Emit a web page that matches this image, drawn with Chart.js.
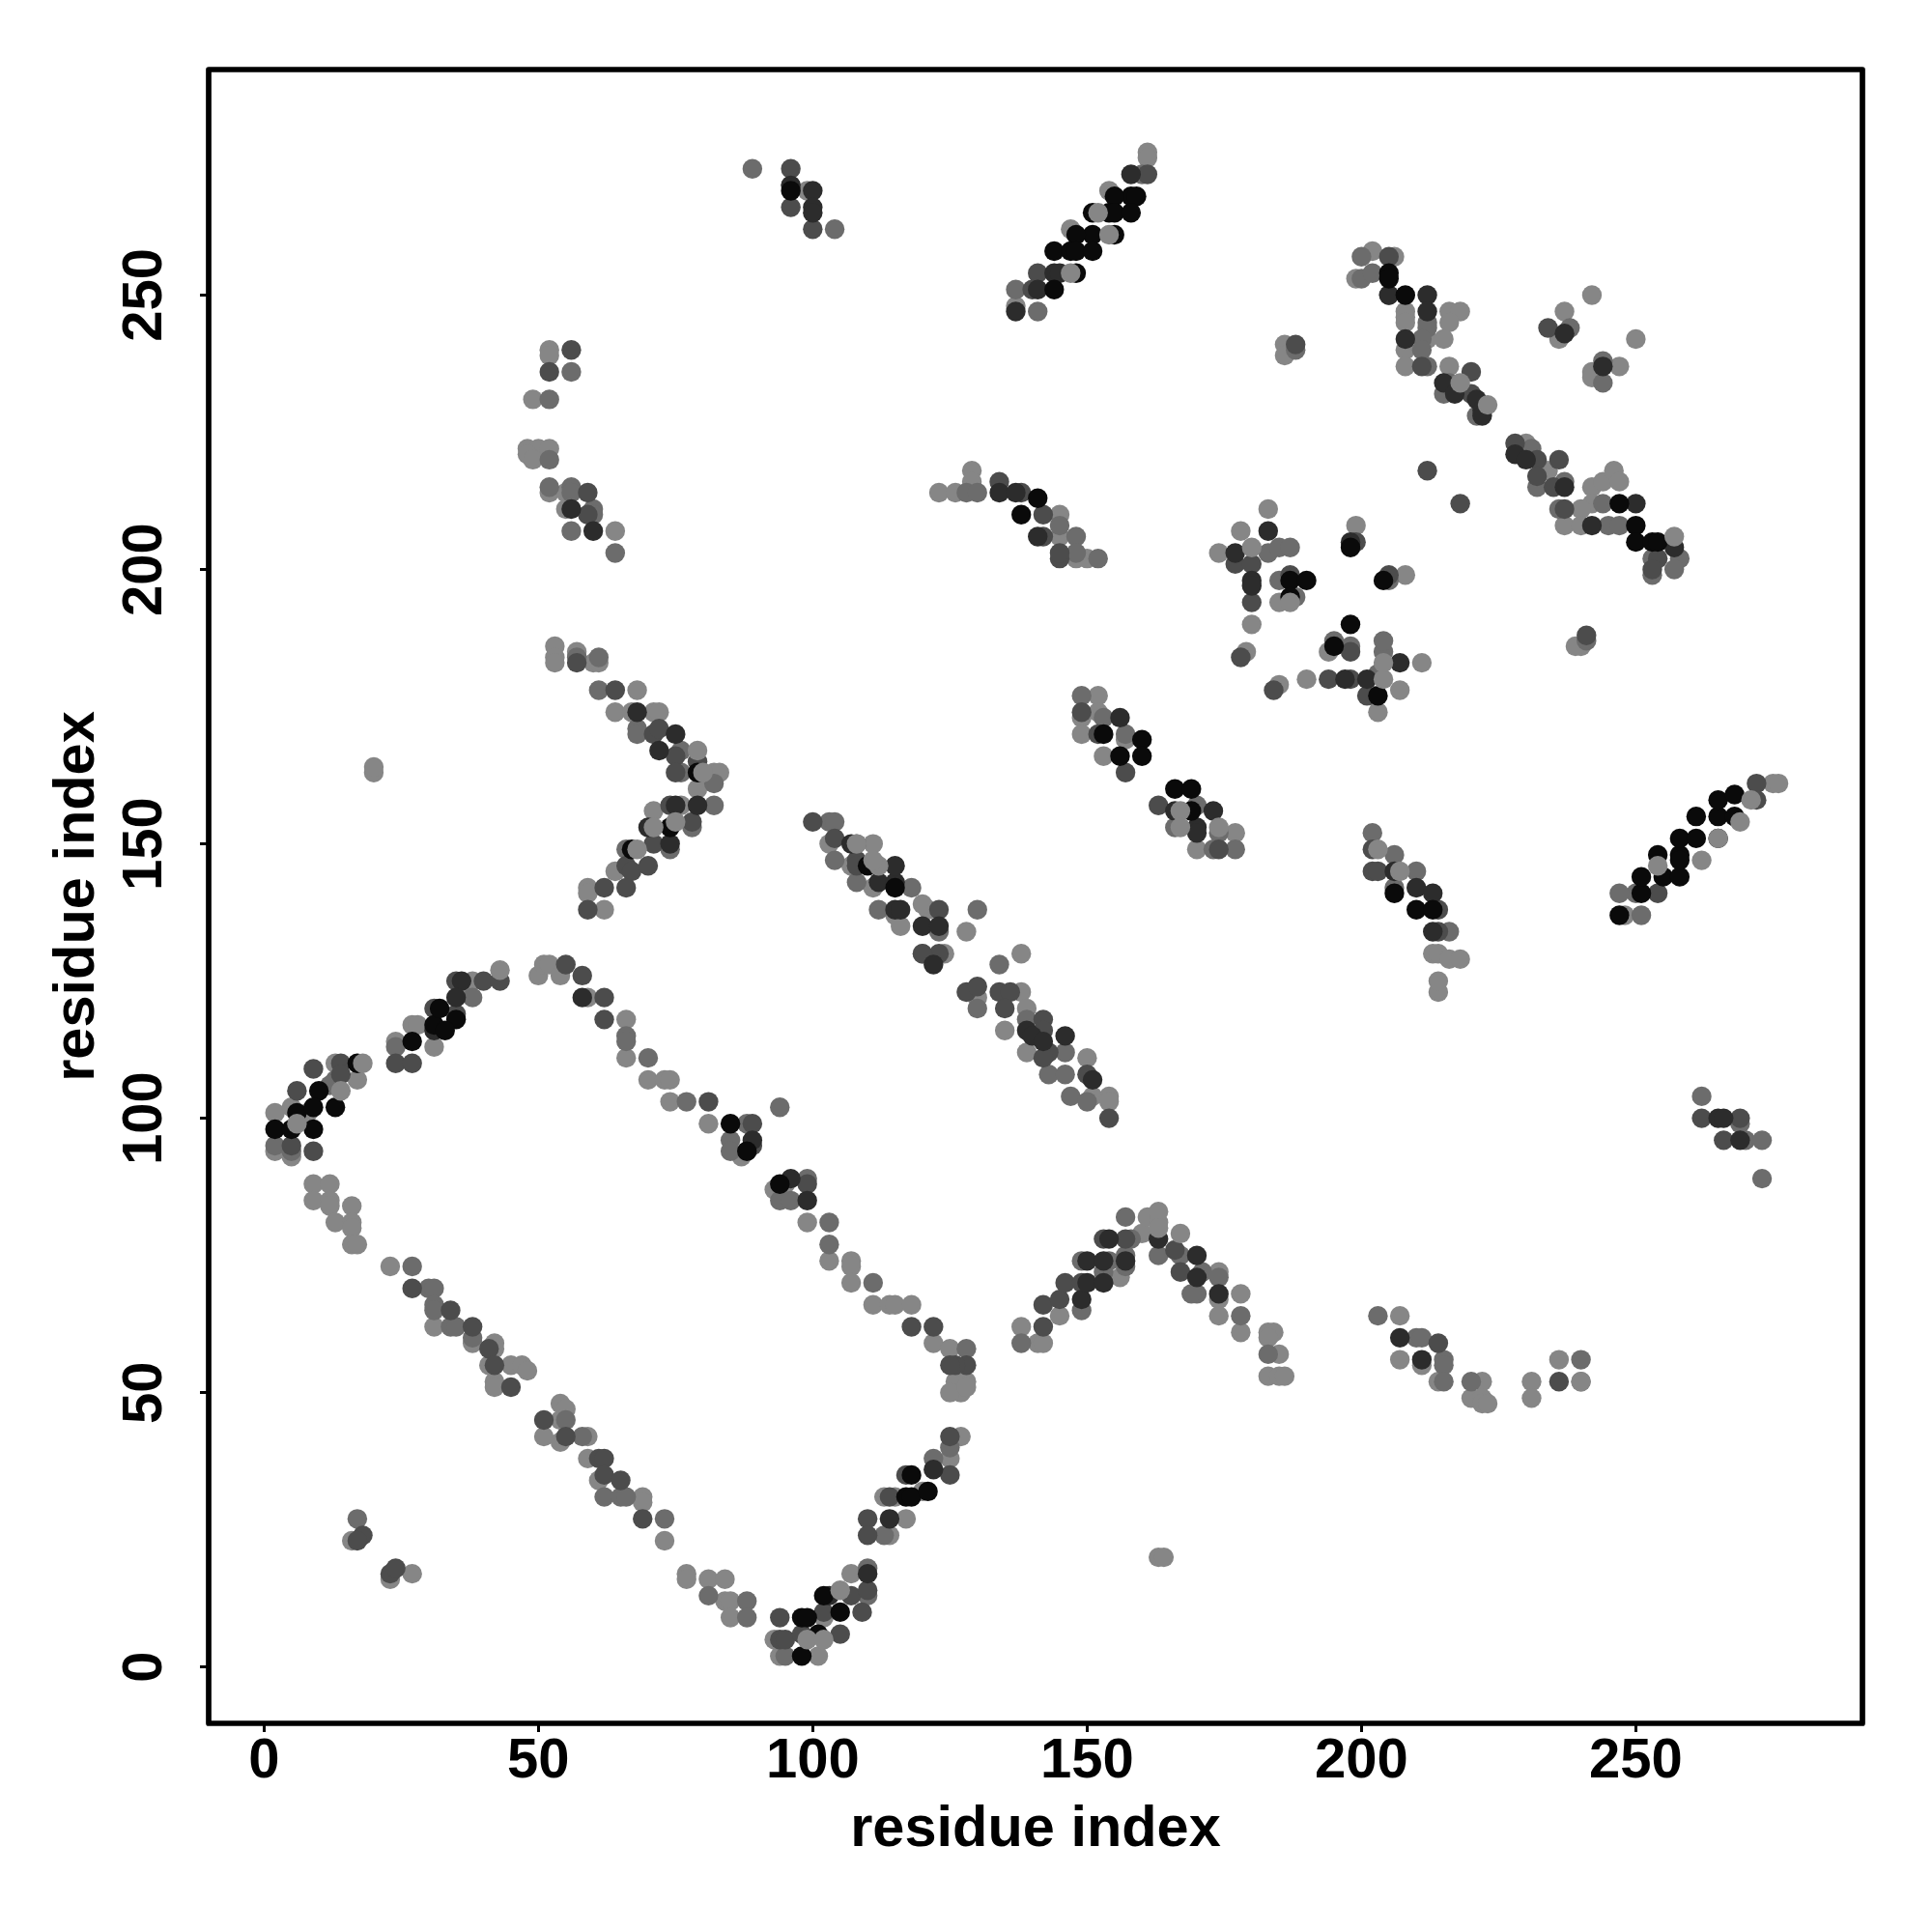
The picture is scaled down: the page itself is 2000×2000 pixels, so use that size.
<!DOCTYPE html>
<html>
<head>
<meta charset="utf-8">
<style>html,body{margin:0;padding:0;background:#fff}canvas{display:block}</style>
<script src="https://cdn.jsdelivr.net/npm/chart.js@4/dist/chart.umd.min.js"></script>
</head>
<body>
<canvas id="c" width="2000" height="2000"></canvas>
<script>
const xTicks=[0,50,100,150,200,250];
const yTicks=[0,50,100,150,200,250];
const axisTitle="residue index";

const blackPoints=[[2,98],[5,98],[6,101],[10,105],[9,102],[9,98],[13,102],[17,110],[27,114],[31,117],[32,120],[35,118],[33,116],[85,99],[88,94],[94,88],[98,2],[98,9],[99,9],[101,6],[102,13],[105,10],[117,31],[118,31],[118,35],[121,32],
[96,269],[79,163],[74,153],[67,149],[110,146],[115,142],
[158,268],[155,268],[159,268],[151,265],[154,265],[155,265],[158,265],[151,261],[155,261],[148,261],[144,258],[147,258],[148,258],[151,258],[148,254],[144,251],
[205,254],[205,253],[208,250],[250,208],[250,205],[253,205],[254,205],[247,212],
[141,213],[138,210],[187,198],[190,198],[187,195],[203,177],[195,186],[198,190],[198,204],[204,198],
[153,170],[160,169],[156,166],[160,166],[166,160],[169,160],[169,156],
[206,141],[210,138],[213,138],
[247,137],[251,141],[251,144],[255,144],[258,144],[254,148],[258,148],[258,147],[258,151],[261,151],[261,155],[265,155],[265,151],[265,158],[268,159],[268,155]];

const darkPoints=[[31,116],[36,125],[35,122],[58,122],[89,96],[96,89],[99,85],[110,17],[114,27],[122,36],[103,13],
[96,270],[100,269],[100,266],[100,265],[56,211],[60,207],[68,174],[75,170],[72,167],[79,157],[75,157],[70,153],[74,150],[112,143],[115,143],[115,146],[115,138],[116,138],[120,135],[123,135],[107,150],
[122,128],[139,116],[140,115],[142,114],[146,115],[151,107],
[149,67],[150,74],[150,70],[154,78],[153,74],[153,70],[157,74],[163,78],[170,75],[170,71],[174,68],[207,60],[211,56],[265,100],[266,100],[269,96],
[158,272],[144,254],[141,251],[145,254],[137,247],
[205,250],[212,250],[212,247],[208,242],[215,234],[217,232],[221,231],[222,229],[222,228],
[228,221],[230,220],[237,215],[250,212],[242,208],[257,204],[237,243],[244,237],[134,214],[137,214],[141,206],
[177,203],[183,207],[180,198],[180,197],[197,180],[201,180],[207,183],[198,205],
[156,173],[166,156],[173,156],[170,153],[170,152],[206,145],[210,142],[213,141],[213,134]];

const darkMidPoints=[[6,105],[9,109],[9,94],[14,110],[14,108],[24,110],[27,110],[5,95],[31,120],[35,125],[40,125],[43,125],[35,119],
[55,128],[58,126],[62,122],[62,118],[81,103],[89,99],[89,95],[99,88],[118,62],[122,62],[128,55],[126,55],[125,55],
[27,69],[34,65],[38,62],[41,58],[42,55],[45,51],[51,45],[55,42],[61,38],[62,38],[62,35],[65,34],[69,27],
[94,9],[94,5],[95,5],[98,6],[102,10],[105,6],[107,13],[109,10],[110,14],
[110,27],[110,24],[114,31],[117,35],[125,35],[125,42],[18,24],[23,17],[24,18],[17,23],
[96,273],[96,266],[100,262],[52,236],[59,214],[59,210],[56,240],[57,183],
[64,178],[71,170],[72,171],[75,166],[79,165],[75,163],[74,157],[78,154],[71,150],[66,146],[67,145],[70,146],[62,142],[66,142],[59,138],
[100,154],[104,151],[108,147],[108,146],[123,138],[123,130],[120,130],
[128,123],[130,124],[134,123],[136,123],[135,120],[142,118],[142,116],[143,112],[142,111],[150,108],[154,100],
[142,62],[142,66],[145,67],[146,70],[149,70],[153,78],[157,78],[166,76],[167,72],[214,59],[236,52],[262,100],[269,100],[266,96],
[161,272],[141,254],[140,251],[205,257],[211,237],[220,236],[220,232],
[228,223],[232,220],[236,220],[232,217],[235,215],[237,211],[254,202],[253,200],[234,244],
[218,212],[212,218],[134,216],[138,214],[142,210],[145,202],[145,203],[142,206],
[177,201],[180,201],[180,194],[187,199],[178,184],[184,178],[194,180],[198,180],[201,177],[198,185],[199,205],[205,199],[188,241],[241,188],
[149,174],[152,170],[157,163],[163,157],[174,149],[202,145],[203,145],[202,149],[214,138],[214,134],[254,141],[272,161],[272,158]];

const midPoints=[[2,95],[5,94],[13,107],[12,106],[38,122],[24,113],[94,102],[85,96],[85,94],[88,99],[94,85],[96,85],[99,89],[66,115],[66,114],[70,111],[77,103],[103,81],[103,77],[111,70],
[27,73],[30,69],[31,69],[31,66],[31,65],[34,62],[35,62],[38,60],[55,45],[58,42],[62,31],[65,31],[66,31],[73,27],[81,13],[88,12],[88,9],[95,2],[110,13],[110,18],[125,40],[122,38],[113,24],[17,27],[128,58],
[89,273],[96,270],[104,262],[52,231],[52,220],[52,215],[56,236],[56,215],[56,214],[60,211],[60,210],[56,207],[64,203],[57,184],[61,184],
[61,178],[68,171],[68,170],[76,167],[76,163],[82,161],[82,157],[78,153],[74,149],[66,149],
[103,154],[104,154],[104,147],[108,150],[108,143],[112,138],[123,134],[118,142],
[130,138],[134,128],[130,120],[139,118],[146,112],[143,108],[146,108],[147,104],[150,103],
[138,59],[149,65],[149,74],[154,74],[153,72],[157,82],[158,78],[157,75],[157,73],[163,75],[167,75],[171,72],[170,68],[169,68],[174,71],[178,64],[183,57],[203,64],[210,60],[211,60],[215,56],[215,55],[215,52],[220,52],[240,56],[262,104],[269,99],[270,96],[273,96],[273,89],
[160,272],[137,251],[141,247],[200,257],[200,253],[202,254],[205,250],[212,245],[212,244],[211,242],[211,240],[212,237],[216,234],[215,232],[221,228],
[231,222],[232,215],[237,216],[244,212],[236,211],[245,208],[247,208],[253,202],[258,202],[257,200],[253,199],[238,244],[244,238],[244,234],
[128,214],[130,214],[145,208],[148,206],[148,203],[152,202],
[183,203],[185,204],[187,204],[185,198],[188,195],[204,185],[204,187],[203,181],[195,187],[198,186],[205,198],[188,240],[241,187],
[149,177],[153,173],[157,170],[170,157],[166,153],[174,152],[173,149],[177,149],[202,152],[206,148],[210,145],[206,142],[216,134],[250,141],[247,141],[251,137]];

const lightPoints=[[2,101],[2,94],[5,102],[5,93],[8,101],[13,110],[17,107],[24,114],[27,117],[28,117],[31,113],[38,125],[37,124],
[50,126],[51,128],[52,128],[54,126],[59,122],[66,118],[66,111],[70,107],[73,107],[74,107],[74,103],[81,99],[87,93],[88,94],[93,87],[95,88],[99,81],[103,74],[107,74],[107,73],[107,70],[111,66],[114,66],[115,66],[118,66],[122,59],
[125,58],[128,52],[126,52],[127,50],[125,50],[128,51],
[9,88],[12,88],[9,85],[12,85],[12,84],[13,81],[16,84],[16,81],[16,80],[16,77],[17,77],[23,73],[31,62],[38,59],[42,59],[42,58],[41,55],[42,52],[42,51],[45,55],[47,55],[48,54],[51,42],[54,48],[55,47],[54,45],[54,41],[59,42],[59,38],[61,34],[69,31],[69,30],[73,23],[77,17],[77,16],[81,16],[84,16],[84,12],[85,12],[85,9],[93,5],[94,2],[101,2],[102,9],[107,17],
[114,24],[117,27],[113,31],[115,31],[120,32],[125,38],[127,42],[16,23],[23,16],[27,17],[20,163],[20,164],[163,20],[164,20],
[99,269],[52,240],[52,239],[49,231],[48,222],[50,222],[48,221],[49,220],[52,222],[52,214],[55,214],[55,211],[64,207],
[53,186],[53,184],[53,183],[57,185],[60,183],[61,183],[68,178],[64,174],[67,174],[71,174],[72,174],[79,160],[82,163],[83,163],[71,156],[76,157],[59,142],[59,141],[62,138],[64,145],
[103,150],[111,150],[107,146],[111,142],[115,137],[121,138],[116,135],[120,139],[120,130],[124,130],[128,134],[138,130],[130,122],[138,123],[135,116],[139,120],[139,112],[150,111],[151,104],[154,104],[154,103],
[138,62],[141,59],[142,59],[145,64],[156,71],[160,79],[161,82],[174,72],[174,67],[174,64],[178,68],[178,61],[183,61],[184,61],[183,60],[185,57],[183,53],[185,53],[186,53],[207,64],[207,56],[211,55],[214,52],[222,52],[220,49],[222,49],[222,48],[223,48],[231,52],[231,49],[236,56],[240,52],[214,123],[214,125],
[161,276],[161,275],[154,269],[147,262],[137,248],[199,253],[202,258],[206,257],[208,247],[208,246],[208,245],[216,247],[218,247],[216,245],[215,242],[212,242],[208,240],[208,237],[216,237],
[230,223],[234,218],[242,215],[244,216],[246,218],[247,216],[242,212],[240,211],[237,208],[240,208],[242,250],[237,247],[236,242],[250,242],[242,236],[247,237],[242,235],[186,241],[186,239],[240,186],[239,186],
[123,214],[126,214],[129,218],[129,216],[145,210],[145,206],[148,202],[150,202],
[174,203],[178,207],[183,211],[180,190],[185,194],[179,185],[185,179],[190,180],[202,177],[203,174],[207,178],[211,183],[194,185],[199,208],[208,199],
[152,177],[149,173],[152,174],[149,170],[153,166],[157,169],[177,152],[170,149],[213,130],[214,130],[216,129],[218,129],[248,137],[262,147],[275,161],[276,161]];

const lightTopPoints=[[6,99],[14,105],[18,110],[43,127],[99,5],[102,5],[105,14],[80,163],[79,167],[71,153],[68,149],[75,154],[112,146],[111,147],[108,150],[152,265],[147,254],[154,261],[254,146],[265,151],[269,154],[167,156],[174,153],[203,149],[207,145],[180,204],[187,194],[257,206],[223,230],[218,234],[204,180],[204,183],[163,81],[163,83],[167,79],[163,80],[271,158],[167,153],[240,52]];

const asXY=list=>list.map(p=>({x:p[0],y:p[1]}));
const layer=(list,color)=>({data:asXY(list),backgroundColor:color,borderWidth:0,pointRadius:10.2,pointHoverRadius:10.2});

const boxPlugin={id:'box',afterDraw(chart){
  const a=chart.chartArea,g=chart.ctx;
  g.save();g.strokeStyle='#000';g.lineWidth=5.7;g.lineJoin='round';
  g.strokeRect(a.left,a.top,a.right-a.left,a.bottom-a.top);g.restore();
}};
const font={family:'"Liberation Sans"',weight:'bold',size:58};
const titleFont={family:'"Liberation Sans"',weight:'bold',size:59.5};
const baseAxis=(ticks,titlePadding)=>({
  type:'linear',
  afterBuildTicks(s){s.ticks=ticks.map(v=>({value:v}));},
  grid:{display:true,drawOnChartArea:false,drawTicks:true,tickLength:9,tickWidth:3,tickColor:'#000',color:'#000'},
  border:{display:false},
  title:{display:true,text:axisTitle,color:'#000',font:titleFont,padding:titlePadding}
});
new Chart(document.getElementById('c'),{
  type:'scatter',
  // dataset 0 is painted last, so the list runs from the top layer down
  data:{datasets:[
    layer(lightTopPoints,'#868686'),
    layer(blackPoints,'#0a0a0a'),
    layer(darkPoints,'#2c2c2c'),
    layer(darkMidPoints,'#4c4c4c'),
    layer(midPoints,'#6c6c6c'),
    layer(lightPoints,'#868686')
  ]},
  options:{
    responsive:false,animation:false,devicePixelRatio:1,
    layout:{padding:{left:0,bottom:0,top:72,right:72}},
    plugins:{legend:{display:false},tooltip:{enabled:false}},
    scales:{
      x:Object.assign(baseAxis(xTicks,{top:0,bottom:70}),{
        min:-10.09,max:291.3,position:'bottom',
        afterFit(s){s.height=216;},
        ticks:{color:'#000',font,padding:-4,maxRotation:0,minRotation:0,autoSkip:false}
      }),
      y:Object.assign(baseAxis(yTicks,{top:45,bottom:0}),{
        min:-10.26,max:291.1,position:'left',
        afterFit(s){s.width=216;},
        ticks:{color:'#000',font,padding:8,crossAlign:'center',maxRotation:90,minRotation:90,autoSkip:false}
      })
    }
  },
  plugins:[boxPlugin]
});
</script>
</body>
</html>
